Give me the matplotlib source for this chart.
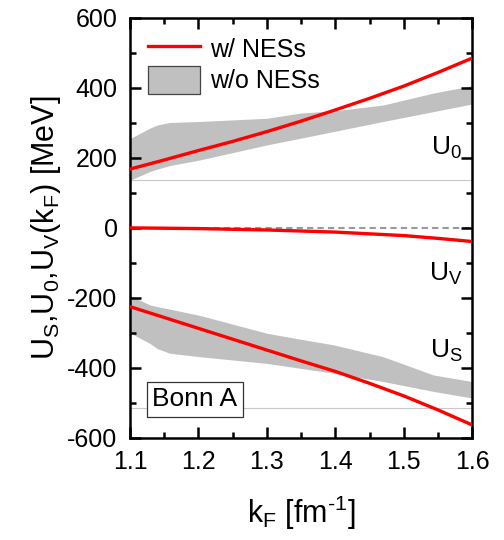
#!/usr/bin/env python3
"""Self-energy components U_S, U_0, U_V vs k_F (Bonn A), with and without NESs."""

import matplotlib
matplotlib.use("Agg")
import matplotlib.pyplot as plt
from matplotlib.patches import Patch
from matplotlib.lines import Line2D
from matplotlib.ticker import MultipleLocator

plt.rcParams["font.family"] = ["Liberation Sans", "DejaVu Sans"]
plt.rcParams["mathtext.fontset"] = "custom"
plt.rcParams["mathtext.rm"] = "Liberation Sans"
plt.rcParams["mathtext.it"] = "Liberation Sans"
plt.rcParams["axes.unicode_minus"] = False

# red curves (w/ NESs)
kf = [1.1, 1.15, 1.2, 1.25, 1.3, 1.35, 1.4, 1.45, 1.5, 1.55, 1.6]
u0_red = [168, 194, 221, 247, 275, 305, 337, 370, 405, 444, 485]
uv_red = [0, -1, -2, -4, -6, -9, -12, -17, -22, -30, -39]
us_red = [-225, -256, -287, -318, -349, -380, -410, -444, -480, -520, -563]

# gray bands (w/o NESs)
kf_band = [1.101, 1.129, 1.14, 1.158, 1.202, 1.30, 1.349, 1.397, 1.47, 1.543, 1.6]
u0_hi = [256, 285, 294, 301, 304, 313, 328, 334, 351, 385, 406]
u0_lo = [137, 161, 168, 178, 194, 237, 256, 275, 304, 332, 354]
us_hi = [-194, -220, -225, -232, -250, -301, -318, -334, -368, -420, -439]
us_lo = [-301, -330, -345, -358, -368, -387, -401, -415, -439, -467, -486]

# faint reference lines seen in the figure
hlines = [137, -514]

fig = plt.figure(figsize=(5.04, 5.40), dpi=100)
ax = fig.add_axes([0.258, 0.189, 0.679, 0.778])
ax.set_axisbelow(False)

band_color = "#c0c0c0"
ax.fill_between(kf_band, u0_lo, u0_hi, color=band_color, lw=0)
ax.fill_between(kf_band, us_lo, us_hi, color=band_color, lw=0)
for h in hlines:
    ax.axhline(h, color="#c8c8c8", lw=0.8, zorder=1)
ax.axhline(0, color="#999999", lw=1.5, ls=(0, (3, 2)), zorder=2)

for ys in (u0_red, uv_red, us_red):
    ax.plot(kf, ys, color="red", lw=2.4, zorder=3)

ax.set_xlim(1.1, 1.6)
ax.set_ylim(-600, 600)
ax.xaxis.set_major_locator(MultipleLocator(0.1))
ax.xaxis.set_minor_locator(MultipleLocator(0.05))
ax.yaxis.set_major_locator(MultipleLocator(200))
ax.yaxis.set_minor_locator(MultipleLocator(100))
ax.tick_params(which="both", direction="in", top=True, right=True,
               width=1.8, color="black")
ax.tick_params(which="major", length=8, labelsize=18, pad=9)
ax.tick_params(which="minor", length=4.5)
for s in ax.spines.values():
    s.set_linewidth(1.8)

ax.set_xlabel(r"k$_\mathregular{F}$ [fm$^{\text{-1}}$]", fontsize=22, labelpad=14)
ax.set_ylabel(r"U$_\mathregular{S}$,U$_\mathregular{0}$,U$_\mathregular{V}$(k$_\mathregular{F}$) [MeV]",
              fontsize=22, labelpad=3)

ax.text(1.562, 228, r"U$_\mathregular{0}$", fontsize=19, ha="center", va="center")
ax.text(1.562, -132, r"U$_\mathregular{V}$", fontsize=19, ha="center", va="center")
ax.text(1.562, -352, r"U$_\mathregular{S}$", fontsize=19, ha="center", va="center")
ax.text(1.1325, -490, "Bonn A", fontsize=19, ha="left", va="center",
        bbox=dict(boxstyle="square,pad=0.2", fc="white", ec="#333333", lw=0.9))

handles = [Line2D([], [], color="red", lw=2.4),
           Patch(facecolor=band_color, edgecolor="#444444", lw=0.9)]
ax.legend(handles, ["w/ NESs", "w/o NESs"], loc="upper left", frameon=False,
          fontsize=18, handlelength=2.1, handleheight=1.3, handletextpad=0.4,
          labelspacing=0.15, borderaxespad=0.3, bbox_to_anchor=(0.0, 1.0))

fig.savefig("out.png", dpi=100)
